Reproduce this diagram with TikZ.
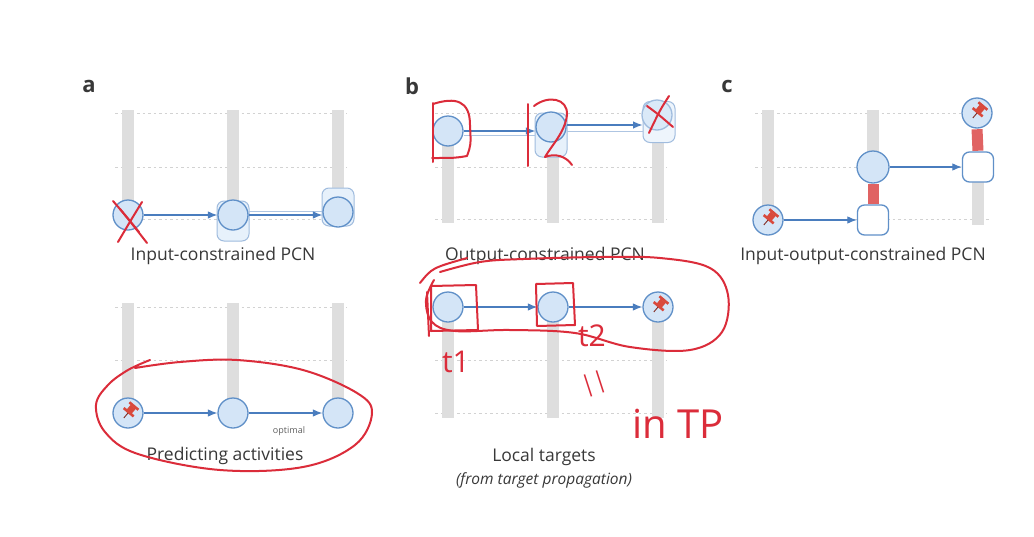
\documentclass[tikz,border=0pt]{standalone}
\usepackage{fontspec}
\setmainfont{Open Sans}
\usetikzlibrary{arrows.meta}
\definecolor{nodefill}{HTML}{D4E5F7}
\definecolor{nodeblue}{HTML}{6090C8}
\definecolor{arrowblue}{HTML}{4A7DBE}
\definecolor{bargray}{HTML}{DEDEDE}
\definecolor{dotgray}{HTML}{D2D2D2}
\definecolor{handred}{HTML}{DB2C3A}
\definecolor{redbar}{HTML}{E06363}
\definecolor{txt}{HTML}{383838}
\definecolor{pinred}{HTML}{D9493C}
\tikzset{
  unit/.style={circle, draw=nodeblue, fill=nodefill, line width=1.3pt, minimum size=30pt, inner sep=0pt},
  sqbox/.style={rectangle, rounded corners=7pt, draw=nodeblue, fill=white, line width=1.3pt, minimum width=31pt, minimum height=30pt, inner sep=0pt},
  ghostbox/.style={rectangle, rounded corners=7pt, draw=nodeblue!60, fill=nodefill!55, line width=1pt, minimum width=32pt, inner sep=0pt},
  arr/.style={draw=arrowblue, line width=1.1pt, -{Latex[length=9.5pt,width=7.5pt]}},
  ghostline/.style={draw=arrowblue!45, line width=1pt},
  bar/.style={draw=bargray, line width=12pt},
  rbar/.style={draw=redbar, line width=11pt, shorten <=0.6pt, shorten >=0.6pt},
  dots/.style={draw=dotgray, line width=0.8pt, dash pattern=on 2.5pt off 3pt},
  redink/.style={draw=handred, line width=2pt, line cap=round, line join=round},
  captext/.style={text=txt, font=\fontsize{17.5}{20}\selectfont},
  panel/.style={text=txt, font=\fontsize{22}{24}\selectfont\bfseries},
  handtext/.style={text=handred, inner sep=0pt, font=\fontsize{30}{32}\selectfont},
  pics/pushpin/.style={code={
    \begin{scope}[rotate=-40, scale=1.3]
      \fill[pinred] (-4.5,-8) rectangle (4.5,-6);
      \fill[pinred] (-2.5,-6.2) rectangle (2.5,-1.5);
      \fill[pinred] (-5,-1.8) rectangle (5,0.2);
      \draw[pinred!60!black, line width=0.9pt] (0,0) -- (0,5);
    \end{scope}}}
}
\begin{document}
\begin{tikzpicture}[x=1pt,y=-1pt]
\fill[white] (0,0) rectangle (1034,536);
\useasboundingbox (0,0) rectangle (1034,536);

% dotted guide lines
\foreach \y in {113,167,219} {
  \draw[dots] (115,\y) -- (347,\y);
  \draw[dots] (435,\y) -- (667,\y);
  \draw[dots] (755,\y) -- (990,\y);
}
\foreach \y in {307,360} \draw[dots] (115,\y) -- (347,\y);
\foreach \y in {360,413} \draw[dots] (435,\y) -- (667,\y);

% gray bars
\foreach \x in {128,233,338} \draw[bar] (\x,110) -- (\x,215);
\foreach \x in {128,233,338} \draw[bar] (\x,303) -- (\x,413);
\foreach \x in {448,553,658} \draw[bar] (\x,120) -- (\x,223);
\foreach \x in {448,553,658} \draw[bar] (\x,307) -- (\x,418);
\draw[bar] (768,110) -- (768,219);
\draw[bar] (873,110) -- (873,167);
\draw[bar] (978,167) -- (978,225);

% panel labels
\node[panel] (la) at (89,86) {a};
\node[panel] (lb) at (412,86) {b};
\node[panel] (lc) at (727,86) {c};

% ---- a top
\node[ghostbox, minimum height=40pt] (a2g) at (233,221) {};
\node[ghostbox, minimum height=38pt] (a3g) at (338,207) {};
\node[unit] (a1) at (128,215) {};
\node[unit] (a2) at (233,215) {};
\node[unit] (a3) at (338,212) {};
\draw[arr] (a1) -- (a2);
\draw[ghostline] ([yshift=4pt]a2.east) -- ([yshift=4pt]a2.east -| a3.west);
\draw[arr] (a2.east) -- (a2.east -| a3.west);
\node[captext] (capa1) at (223,256) {Input-constrained PCN};

% ---- a bottom
\node[unit] (p1) at (128,413) {};
\node[unit] (p2) at (233,413) {};
\node[unit] (p3) at (338,413) {};
\pic at (p1) {pushpin};
\draw[arr] (p1) -- (p2);
\draw[arr] (p2) -- (p3);
\node[text=txt!80, font=\fontsize{9}{10}\selectfont] (opt) at (289,431) {optimal};
\node[captext] (capa2) at (225,456) {Predicting activities};

% ---- b top
\node[ghostbox, minimum height=44pt] (b2g) at (551,135) {};
\node[ghostbox, minimum height=41pt, fill=nodefill!40] (b3g) at (659,122) {};
\node[unit] (b1) at (448,131) {};
\node[unit] (b2) at (551,127) {};
\node[unit, draw=nodeblue!60, fill=nodefill!85] (b3) at (657,115) {};
\draw[ghostline] ([yshift=-4pt]b1.east) -- ([yshift=-4pt]b1.east -| b2.west);
\draw[arr] (b1.east) -- (b1.east -| b2.west);
\draw[ghostline] ([yshift=-4pt]b2.east) -- ([yshift=-4pt]b2.east -| b3g.west);
\draw[arr] ([yshift=2pt]b2.east) -- ([yshift=2pt]b2.east -| b3g.west);
\node[captext] (capb1) at (545,256) {Output-constrained PCN};

% ---- b bottom
\node[unit] (l1) at (448,307) {};
\node[unit] (l2) at (553,307) {};
\node[unit] (l3) at (658,307) {};
\pic at (l3) {pushpin};
\draw[arr] (l1) -- (l2);
\draw[arr] (l2) -- (l3);
\node[captext] (capb2) at (544,457) {Local targets};
\node[captext, font=\fontsize{15.5}{18}\selectfont\itshape] (capb3) at (544,480) {(from target propagation)};

% ---- c
\node[unit] (c1) at (768,220) {};
\node[sqbox] (c2s) at (873,220) {};
\node[unit, minimum size=32pt] (c2c) at (873,167) {};
\node[sqbox] (c3s) at (978,167) {};
\node[unit] (c3p) at (977,113) {};
\pic at (c1) {pushpin};
\pic at (c3p) {pushpin};
\draw[rbar] (c2c.south) -- (c2s.north);
\draw[rbar] (c3p.south) -- (c3s.north);
\draw[arr] (c1) -- (c2s);
\draw[arr] (c2c) -- (c3s);
\node[captext] (capc) at (863,256) {Input-output-constrained PCN};

% ---- red handwritten annotations
\draw[redink] (113,201) .. controls (126,216) .. (147,243);
\draw[redink] (142,202) .. controls (131,220) .. (118,242);
\draw[redink] (120,209) -- (139,232);
\draw[redink] (433,103) -- (433,162);
\draw[redink] (433,104) .. controls (455,97) and (470,100) .. (470,125) .. controls (471,145) .. (467,156) .. controls (455,158) .. (432,158);
\draw[redink] (528,104) -- (528,166);
\draw[redink] (534,106) .. controls (548,95) and (568,98) .. (567,115) .. controls (565,132) and (552,145) .. (545,157) .. controls (555,153) and (566,156) .. (572,165);
\draw[redink] (647,106) .. controls (658,114) .. (673,127);
\draw[redink] (669,96) .. controls (660,110) .. (649,133);
\draw[redink] plot[smooth, tension=0.6] coordinates {(440,272) (480,262) (523,259) (600,257) (660,258) (710,268) (728,295) (722,332) (690,350) (630,347) (575,333) (510,330) (455,331) (432,322) (426,300) (434,280)};
\draw[redink] (420,283) .. controls (432,268) .. (467,258);
\draw[redink] (431,286) -- (476,285) -- (478,330) -- (431,331) -- cycle;
\draw[redink] (427,292) -- (429,336);
\draw[redink] (536,284) -- (573,283) -- (575,325) -- (537,326) -- cycle;
\draw[redink] plot[smooth, tension=0.6] coordinates {(150,360) (128,370) (108,385) (96,405) (105,432) (138,454) (220,470) (303,467) (355,445) (372,413) (357,393) (303,370) (237,360) (180,362) (135,368)};
\node[handtext] (t1) at (456,362) {t1};
\node[handtext] (t2) at (592,336) {t2};
\node[handtext, rotate=18, font=\fontsize{23}{25}\selectfont] (eqs) at (594,384) {||};
\node[handtext, font=\fontsize{40}{42}\selectfont] (intp) at (678,424) {in TP};
\end{tikzpicture}
\end{document}
